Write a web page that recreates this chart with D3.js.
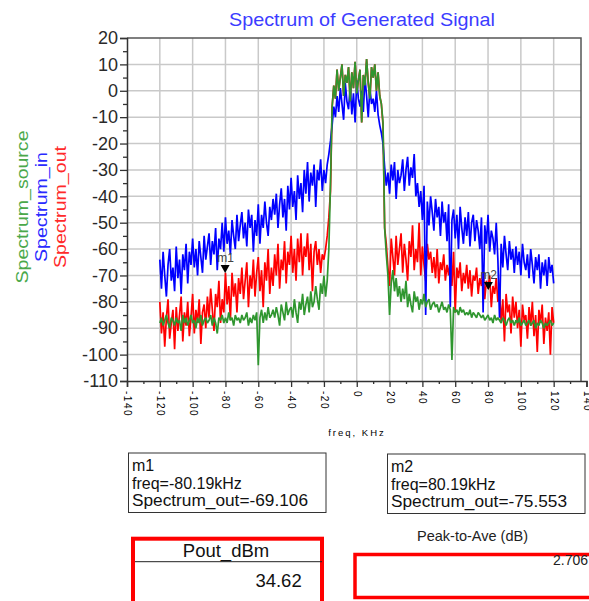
<!DOCTYPE html>
<html>
<head>
<meta charset="utf-8">
<script src="https://cdn.jsdelivr.net/npm/d3@7"></script>
<style>
  body { margin: 0; background: #ffffff; }
  text { font-family: "Liberation Sans", Arial, sans-serif; }
</style>
</head>
<body>
<script>

/* DATA (1 kHz steps from -120 to 120 kHz) */

var freqKHz = d3.range(-120, 121, 1);

var spectrumIn = [
  -64, -75, -61, -70, -78, -66, -60, -72, -67, -76,
  -59, -71, -64, -77, -62, -68, -58, -73, -61, -66,
  -56, -67, -60, -70, -57, -63, -69, -55, -64, -59,
  -54, -66, -57, -62, -52, -68, -56, -60, -50, -61,
  -48, -58, -53, -62, -49, -55, -60, -47, -57, -51,
  -46, -56, -50, -59, -45, -52, -47, -61, -49, -55,
  -43, -58, -47, -52, -42, -50, -55, -44, -49, -41,
  -47, -39, -52, -43, -37, -48, -41, -53, -36, -45,
  -33, -44, -38, -49, -32, -41, -35, -46, -30, -39,
  -27, -42, -31, -36, -28, -44, -30, -34, -26, -38,
  -30, -35, -28, -24, -19,
  -13, -6, -10, -2, -8, 1, -5, -11, 3, -4, -7, 2, -9, -1, -12, 4,
  -3, -6, 0, -8, 5, -2, -10, 1, -5, -3, -8, 0, -9, -13, -16, -20,
  -29, -36, -31, -39, -28, -34, -27, -41, -30, -35,
  -32, -26, -38, -30, -25, -36, -29, -33, -24, -40,
  -35, -44, -38, -49, -36, -85, -42, -51, -40, -46,
  -53, -41, -48, -44, -55, -42, -50, -46, -57, -43,
  -82, -49, -45, -56, -47, -60, -44, -52, -58, -48,
  -55, -46, -59, -50, -47, -57, -49, -53, -60, -48,
  -84, -51, -58, -47, -61, -53, -56, -62, -50, -64,
  -86, -58, -67, -55, -62, -68, -57, -64, -60, -69,
  -59, -66, -61, -70, -58, -65, -68, -62, -71, -60,
  -66, -73, -63, -68, -62, -75, -65, -70, -64, -74,
  -63, -69, -66, -73
];

var spectrumSource = [
  -88, -86, -89, -87, -85, -88, -90, -86, -87, -89,
  -86, -88, -87, -91, -85, -88, -86, -89, -87, -85,
  -88, -87, -90, -86, -88, -85, -89, -87, -86, -88,
  -87, -85, -89, -86, -88, -92, -86, -87, -85, -88,
  -86, -88, -84, -87, -86, -89, -85, -87, -86, -88,
  -85, -87, -86, -84, -89, -86, -88, -85, -87, -84,
  -104, -86, -83, -88, -84, -87, -82, -86, -85, -83,
  -86, -82, -85, -89, -81, -84, -87, -80, -85, -83,
  -82, -86, -79, -84, -88, -80, -83, -77, -85, -81,
  -78, -84, -76, -82, -80, -74, -79, -83, -73, -77,
  -70, -78, -72, -60, -35,
  -6, 2, -3, 8, 0, 5, 10, -2, 6, 3, 9, -4, 7, 1, 11, -1,
  4, 8, -12, 6, 2, 12, 3, -3, 9, 5, 10, 0, 7, -2, -5, -12,
  -52, -62, -70, -85, -73, -68, -76, -71, -78, -74,
  -80, -75, -79, -72, -82, -77, -81, -84, -76, -80,
  -78, -83, -79, -81, -77, -82, -80, -79, -83, -81,
  -80, -82, -81, -84, -82, -80, -83, -82, -84, -81,
  -83, -102, -82, -84, -83, -85, -82, -84, -83, -85,
  -84, -85, -83, -86, -84, -85, -86, -84, -85, -86,
  -85, -87, -86, -85, -87, -86, -88, -85, -87, -86,
  -87, -88, -86, -87, -89, -87, -86, -88, -87, -89,
  -87, -88, -86, -89, -88, -87, -89, -88, -87, -89,
  -88, -87, -90, -88, -89, -87, -88, -90, -88, -89,
  -88, -87, -89, -88
];

var spectrumOut = [
  -80, -92, -84, -97, -86, -79, -94, -88, -83, -98,
  -82, -91, -85, -78, -95, -84, -89, -80, -93, -86,
  -77, -92, -83, -88, -79, -96, -84, -81, -90, -78,
  -86, -75, -83, -91, -77, -82, -72, -88, -79, -84,
  -69, -81, -74, -87, -69, -78, -73, -84, -71, -77,
  -67, -79, -72, -65, -82, -70, -75, -64, -78, -69,
  -63, -76, -68, -82, -65, -72, -60, -77, -67, -74,
  -62, -70, -58, -75, -64, -68, -57, -73, -61, -66,
  -55, -69, -60, -72, -56, -65, -54, -70, -59, -63,
  -54, -68, -58, -76, -61, -57, -66, -60, -69, -62,
  -64, -60, -55, -48, -38,
  -6, 2, -3, 8, 0, 5, 10, -2, 6, 3, 9, -4, 7, 1, 11, -1,
  4, 8, -12, 6, 2, 12, 3, -3, 9, 5, 10, 0, 7, -2, -5, -13,
  -52, -58, -67, -74, -56, -63, -70, -55, -66, -60,
  -54, -69, -58, -64, -72, -57, -63, -51, -68, -60,
  -65, -50, -70, -59, -66, -72, -58, -64, -61, -69,
  -63, -71, -60, -73, -65, -68, -62, -72, -66, -70,
  -64, -74, -61, -84, -67, -71, -65, -76, -69, -73,
  -66, -75, -68, -78, -70, -72, -67, -77, -71, -74,
  -68, -79, -72, -75, -70, -82, -74, -77, -71, -80,
  -76, -88, -79, -95, -77, -84, -81, -92, -78, -86,
  -80, -90, -83, -97, -81, -87, -85, -94, -82, -89,
  -80, -93, -85, -99, -83, -88, -81, -96, -86, -91,
  -84, -100, -82, -88
];

var yTicks = d3.range(-110, 21, 10);
var xTicks = d3.range(-140, 141, 20);

var markerNames = ['m1', 'm2'];
var markerFreqs = [-80.19, 80.19];
var markerValues = [-69.106, -75.553];

var poutValue = '34.62';
var peakToAveValue = '2.706';


/* SETUP */
var width = 589;
var height = 601;
var plotLeft = 127;
var plotRight = 586.5;   // x position of +140 kHz
var frameRight = 581;
var plotTop = 38;
var plotBottom = 381;

var gridColor = '#c9c9c9';
var axisColor = '#333333';
var sourceColor = '#2f962f';
var inColor = '#0000ff';
var outColor = '#ff0000';

var x = d3.scaleLinear().domain([-140, 140]).range([plotLeft, plotRight]);
var y = d3.scaleLinear().domain([-110, 20]).range([plotBottom, plotTop]);

const svg = d3.select('body').append('svg')
    .attr('width', width)
    .attr('height', height);

svg.append('rect')
    .attr('width', width)
    .attr('height', height)
    .attr('fill', '#ffffff');

// title
svg.append('text')
    .attr('x', 362)
    .attr('y', 26)
    .attr('text-anchor', 'middle')
    .attr('fill', '#3c3cff')
    .attr('textLength', 266)
    .attr('lengthAdjust', 'spacingAndGlyphs')
    .style('font-size', '18.5px')
    .text('Spectrum of Generated Signal');

// grid
const grid = svg.append('g').attr('class', 'grid');
grid.selectAll('line.v')
    .data(xTicks.filter(d => d > -140 && d < 140))
    .join('line')
    .attr('x1', d => x(d)).attr('x2', d => x(d))
    .attr('y1', plotTop).attr('y2', plotBottom)
    .attr('stroke', gridColor).attr('stroke-width', 1.5);
grid.selectAll('line.h')
    .data(yTicks.filter(d => d > -110 && d < 20))
    .join('line')
    .attr('x1', plotLeft).attr('x2', frameRight)
    .attr('y1', d => y(d)).attr('y2', d => y(d))
    .attr('stroke', gridColor).attr('stroke-width', 1.5);

// frame (top + right)
svg.append('path')
    .attr('d', `M${plotLeft},${plotTop}H${frameRight}V${plotBottom}`)
    .attr('fill', 'none')
    .attr('stroke', '#555555')
    .attr('stroke-width', 1.5);

// traces
svg.append('clipPath').attr('id', 'plotClip')
  .append('rect')
    .attr('x', plotLeft).attr('y', plotTop)
    .attr('width', frameRight - plotLeft).attr('height', plotBottom - plotTop);

const line = d3.line()
    .x((d, i) => x(freqKHz[i]))
    .y(d => y(d));

const traces = svg.append('g').attr('clip-path', 'url(#plotClip)');
[[spectrumOut, outColor], [spectrumIn, inColor], [spectrumSource, sourceColor]].forEach(([series, color]) => {
    traces.append('path')
        .attr('d', line(series))
        .attr('fill', 'none')
        .attr('stroke', color)
        .attr('stroke-width', 1.7)
        .attr('stroke-linejoin', 'bevel');
});

// y axis
const yAxis = svg.append('g')
    .attr('transform', `translate(${plotLeft},0)`)
    .call(d3.axisLeft(y).tickValues(yTicks).tickSize(7).tickPadding(2).tickFormat(d => String(d)));
svg.append('g')
    .attr('transform', `translate(${plotLeft},0)`)
    .call(d3.axisLeft(y).tickValues(d3.range(-105, 20, 10)).tickSize(4).tickFormat(''))
    .select('.domain').remove();
svg.selectAll('.tick line').attr('stroke', axisColor).attr('stroke-width', 1.3);
yAxis.select('.domain').attr('stroke', axisColor).attr('stroke-width', 1.5);
yAxis.selectAll('text')
    .attr('fill', '#2a2a2a')
    .style('font-size', '18px');

// x axis
const xAxis = svg.append('g')
    .attr('transform', `translate(0,${plotBottom})`)
    .call(d3.axisBottom(x).tickValues(xTicks).tickSize(6).tickFormat(d => String(d)));
const xMinor = svg.append('g')
    .attr('transform', `translate(0,${plotBottom})`)
    .call(d3.axisBottom(x).tickValues(d3.range(-130, 140, 20)).tickSize(3).tickFormat(''));
xMinor.select('.domain').remove();
xMinor.selectAll('line').attr('stroke', axisColor).attr('stroke-width', 1.3);
xAxis.selectAll('line').attr('stroke', axisColor).attr('stroke-width', 1.3);
xAxis.select('.domain').attr('stroke', axisColor).attr('stroke-width', 1.5);
xAxis.selectAll('text')
    .attr('transform', 'rotate(90)')
    .attr('x', 10)
    .attr('y', 0)
    .attr('dy', '0.35em')
    .style('text-anchor', 'start')
    .style('font-size', '10px')
    .style('letter-spacing', '1.5px')
    .attr('fill', '#000000');

svg.append('text')
    .attr('x', 357)
    .attr('y', 436)
    .attr('text-anchor', 'middle')
    .style('font-size', '9.5px')
    .style('letter-spacing', '2px')
    .attr('fill', '#000000')
    .text('freq, KHz');

// legend (rotated)
var legendNames = ['Spectrum_source', 'Spectrum_in', 'Spectrum_out'];
var legendColors = ['#4aa84a', '#2a2aff', '#ff2a2a'];
var legendX = [27.5, 46.5, 65.5];
var legendLength = [153, 110, 122];
legendNames.forEach((name, i) => {
    svg.append('text')
        .attr('transform', `translate(${legendX[i]},207) rotate(-90)`)
        .attr('text-anchor', 'middle')
        .attr('fill', legendColors[i])
        .attr('textLength', legendLength[i])
        .attr('lengthAdjust', 'spacingAndGlyphs')
        .style('font-size', '17px')
        .text(name);
});

// markers
markerNames.forEach((name, i) => {
    const mx = x(markerFreqs[i]);
    const my = y(markerValues[i]);
    svg.append('path')
        .attr('d', `M${mx},${my}L${mx - 4.5},${my - 8}L${mx + 4.5},${my - 8}Z`)
        .attr('fill', '#000000');
    svg.append('text')
        .attr('x', mx - 8)
        .attr('y', my - 11)
        .attr('fill', '#444444')
        .style('font-size', '12px')
        .text(name);
});

// marker readout boxes
var boxX = [128.5, 387.5];
var boxY = [453, 454];
markerNames.forEach((name, i) => {
    svg.append('rect')
        .attr('x', boxX[i]).attr('y', boxY[i])
        .attr('width', 197.5).attr('height', 59.5)
        .attr('fill', 'none')
        .attr('stroke', '#333333')
        .attr('stroke-width', 1);
    const lines = [
        name,
        'freq=' + markerFreqs[i].toFixed(2) + 'kHz',
        'Spectrum_out=' + markerValues[i].toFixed(3)
    ];
    lines.forEach((t, k) => {
        svg.append('text')
            .attr('x', boxX[i] + 3.5)
            .attr('y', boxY[i] + 18 + k * 17.6)
            .attr('fill', '#111111')
            .attr('textLength', k === 2 ? 176 : null)
            .attr('lengthAdjust', 'spacingAndGlyphs')
            .style('font-size', '16px')
            .text(t);
    });
});

// Pout table
svg.append('rect')
    .attr('x', 133).attr('y', 538.7)
    .attr('width', 189).attr('height', 80)
    .attr('fill', 'none')
    .attr('stroke', '#ff0000')
    .attr('stroke-width', 4);
svg.append('line')
    .attr('x1', 135).attr('x2', 322)
    .attr('y1', 561.7).attr('y2', 561.7)
    .attr('stroke', '#222222').attr('stroke-width', 1);
svg.append('text')
    .attr('x', 226).attr('y', 556.5)
    .attr('text-anchor', 'middle')
    .attr('fill', '#111111')
    .style('font-size', '18.5px')
    .text('Pout_dBm');
svg.append('text')
    .attr('x', 301.7).attr('y', 586.5)
    .attr('text-anchor', 'end')
    .attr('fill', '#111111')
    .style('font-size', '18.5px')
    .text(poutValue);

// Peak-to-Ave table
svg.append('text')
    .attr('x', 472.5).attr('y', 541)
    .attr('text-anchor', 'middle')
    .attr('fill', '#222222')
    .style('font-size', '14.5px')
    .text('Peak-to-Ave (dB)');
svg.append('rect')
    .attr('x', 355).attr('y', 554.5)
    .attr('width', 260).attr('height', 43)
    .attr('fill', 'none')
    .attr('stroke', '#ff0000')
    .attr('stroke-width', 3.5);
svg.append('text')
    .attr('x', 553).attr('y', 565)
    .attr('fill', '#222222')
    .style('font-size', '14px')
    .text(peakToAveValue);

</script>
</body>
</html>
